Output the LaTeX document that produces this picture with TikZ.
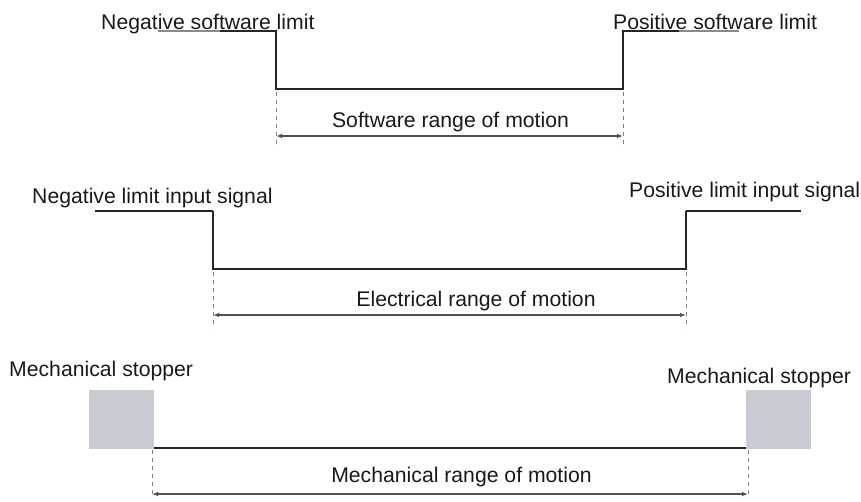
\documentclass[tikz,border=0pt]{standalone}
\usepackage{fontspec}
\setmainfont{Liberation Sans}
\usetikzlibrary{arrows.meta}
\definecolor{thingray}{HTML}{8A8A8A}
\definecolor{stopgray}{HTML}{C8CBD2}
\definecolor{arrgray}{HTML}{505050}
\begin{document}
\begin{tikzpicture}[x=1pt,y=-1pt,
  lbl/.style={anchor=base west,inner sep=0pt,font=\fontsize{21.2}{24}\selectfont,text=black!90},
  rng/.style={anchor=base,inner sep=0pt,font=\fontsize{21.2}{24}\selectfont,text=black!90},
  sig/.style={line width=2.6pt,black!85,line join=miter},
  thinln/.style={line width=1.3pt,thingray},
  thinblk/.style={line width=1.2pt,black!85},
  guide/.style={line width=0.9pt,gray,dash pattern=on 4pt off 4pt},
  dim/.style={line width=1.1pt,arrgray,{Latex[length=6pt,width=4.5pt]}-{Latex[length=6pt,width=4.5pt]}},
  stopbox/.style={fill=stopgray,draw=none}]
\useasboundingbox (0,0) rectangle (861,501);
% ---------- software limits ----------
\node[lbl] (nsl) at (101,29) {Negative software limit};
\node[lbl] (psl) at (613,29) {Positive software limit};
\coordinate (s1) at (158,31);
\coordinate (s2) at (220,31);
\coordinate (s3) at (276,31);
\coordinate (s4) at (276,89);
\coordinate (s5) at (623,89);
\coordinate (s6) at (623,31);
\coordinate (s7) at (679,31);
\coordinate (s8) at (739,31);
\draw[thinln] (s1) -- (s2);
\draw[thinln] (s7) -- (s8);
\draw[sig] (s2) -- (s3) -- (s4) -- (s5) -- (s6) -- (s7);
\coordinate (sg1a) at (276,92); \coordinate (sg1b) at (276,148);
\coordinate (sg2a) at (623,92); \coordinate (sg2b) at (623,148);
\draw[guide] (sg1a) -- (sg1b);
\draw[guide] (sg2a) -- (sg2b);
\coordinate (sd1) at (276,136); \coordinate (sd2) at (623,136);
\draw[dim] (sd1) -- (sd2);
\node[rng] (srm) at (450.5,127) {Software range of motion};
% ---------- electrical limits ----------
\node[lbl] (nli) at (32,203) {Negative limit input signal};
\node[lbl] (pli) at (629,197) {Positive limit input signal};
\coordinate (e1) at (95,211);
\coordinate (e2) at (213,211);
\coordinate (e3) at (213,269);
\coordinate (e4) at (686,269);
\coordinate (e5) at (686,211);
\coordinate (e6) at (801,211);
\draw[thinblk] (e1) -- (e2);
\draw[thinblk] (e5) -- (e6);
\draw[sig] (e2) -- (e3) -- (e4) -- (e5);
\coordinate (eg1a) at (213,272); \coordinate (eg1b) at (213,328);
\coordinate (eg2a) at (686,272); \coordinate (eg2b) at (686,328);
\draw[guide] (eg1a) -- (eg1b);
\draw[guide] (eg2a) -- (eg2b);
\coordinate (ed1) at (213,315); \coordinate (ed2) at (686,315);
\draw[dim] (ed1) -- (ed2);
\node[rng] (erm) at (476,306) {Electrical range of motion};
% ---------- mechanical limits ----------
\node[lbl] (ms1) at (9,376) {Mechanical stopper};
\node[lbl] (ms2) at (667,383) {Mechanical stopper};
\fill[stopbox] (89,390) rectangle (154,449);
\fill[stopbox] (746,390) rectangle (811,449);
\coordinate (m1) at (154,448);
\coordinate (m2) at (746,448);
\draw[sig] (m1) -- (m2);
\coordinate (mg1a) at (152,450); \coordinate (mg1b) at (152,497);
\coordinate (mg2a) at (748,450); \coordinate (mg2b) at (748,497);
\draw[guide] (mg1a) -- (mg1b);
\draw[guide] (mg2a) -- (mg2b);
\coordinate (md1) at (152,494); \coordinate (md2) at (748,494);
\draw[dim] (md1) -- (md2);
\node[rng] (mrm) at (461.5,482) {Mechanical range of motion};
\end{tikzpicture}
\end{document}
